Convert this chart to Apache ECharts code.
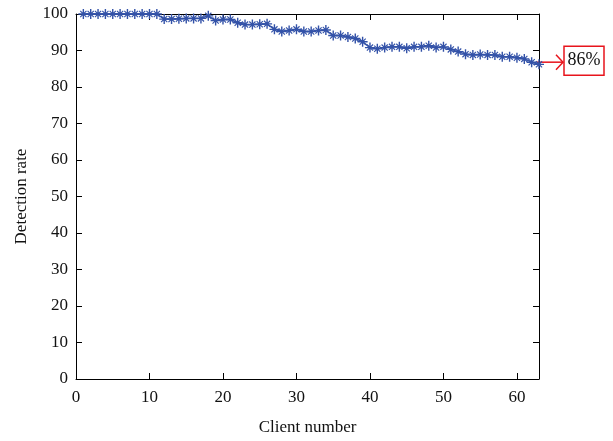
<!DOCTYPE html>
<html>
<head>
<meta charset="utf-8">
<script src="https://cdn.jsdelivr.net/npm/echarts@6/dist/echarts.min.js"></script>
<style>html,body{margin:0;padding:0;background:#fff;}#c{width:613px;height:441px;}</style>
</head>
<body>
<div id="c"></div>
<script>
const clients = [1,2,3,4,5,6,7,8,9,10,11,12,13,14,15,16,17,18,19,20,21,22,23,24,25,26,27,28,29,30,31,32,33,34,35,36,37,38,39,40,41,42,43,44,45,46,47,48,49,50,51,52,53,54,55,56,57,58,59,60,61,62,63];
const rates = [100,100,100,100,100,100,100,100,100,100,100,
  98.6,98.6,98.7,98.8,98.8,98.8,99.5,98.2,98.5,98.5,97.6,97.1,97.1,97.2,97.3,
  95.8,95.2,95.5,95.8,95.2,95.2,95.5,95.6,94.1,94.1,93.7,93.3,92.4,
  90.8,90.5,90.8,91.0,91.0,90.6,91.0,91.0,91.3,90.8,91.0,90.3,89.7,
  89.0,88.8,88.9,88.8,88.8,88.3,88.3,88.0,87.7,86.8,86.2];
const xTicks = [0,10,20,30,40,50,60];
const yTicks = [0,10,20,30,40,50,60,70,80,90,100];
const finalLabel = '86%';

const font = "'Liberation Serif','DejaVu Serif',serif";
const star = 'path://M8.6 0H11.4V20H8.6Z M0 8.6H20V11.4H0Z M3.0 4.6L4.6 3.0L17.0 15.4L15.4 17.0Z M15.4 3.0L17.0 4.6L4.6 17.0L3.0 15.4Z';
const axisBase = {
  axisLine:{show:true,onZero:false,lineStyle:{color:'#000',width:1}},
  axisTick:{show:true,inside:true,length:6,lineStyle:{color:'#000',width:1}},
  splitLine:{show:false}
};
const chart = echarts.init(document.getElementById('c'));
const data = clients.map((c,i)=>[c,rates[i]]);
chart.setOption({
  animation:false,
  grid:{left:76,right:74,top:14,bottom:62},
  xAxis:[
    Object.assign({type:'value',min:0,max:63,interval:10,position:'bottom',
      name:'Client number',nameLocation:'middle',nameGap:40,
      nameTextStyle:{fontFamily:font,fontSize:17,color:'#111'},
      axisLabel:{fontFamily:font,fontSize:17,color:'#111',margin:10,showMaxLabel:false,
        formatter:v=>xTicks.includes(v)?String(v):''}},axisBase),
    Object.assign({type:'value',min:0,max:63,interval:10,position:'top',axisLabel:{show:false}},axisBase)
  ],
  yAxis:[
    Object.assign({type:'value',min:0,max:100,interval:10,position:'left',
      name:'Detection rate',nameLocation:'middle',nameGap:46,
      nameTextStyle:{fontFamily:font,fontSize:17,color:'#111'},
      axisLabel:{fontFamily:font,fontSize:17,color:'#111',margin:8,
        formatter:v=>yTicks.includes(v)?String(v):''}},axisBase),
    Object.assign({type:'value',min:0,max:100,interval:10,position:'right',axisLabel:{show:false}},axisBase)
  ],
  series:[{
    type:'line',data:data,symbol:star,symbolSize:10,showAllSymbol:true,
    lineStyle:{color:'#3352a8',width:1.5},
    itemStyle:{color:'#3352a8'},
    clip:false
  }]
});
const last = data[data.length-1];
const p = chart.convertToPixel({xAxisIndex:0,yAxisIndex:0},[last[0],86.8]);
const x0 = p[0]-2, y0 = p[1];
const bx = x0+27;
chart.setOption({graphic:[
  {type:'line',shape:{x1:x0,y1:y0,x2:bx-1,y2:y0},style:{stroke:'#e8141c',lineWidth:1.5}},
  {type:'polyline',shape:{points:[[bx-8,y0-7.5],[bx-1,y0],[bx-8,y0+7.5]]},style:{stroke:'#e8141c',lineWidth:1.5,fill:null}},
  {type:'rect',shape:{x:bx,y:y0-16,width:40,height:29},style:{stroke:'#e8141c',lineWidth:1.5,fill:'#fff'}},
  {type:'text',x:bx+20,y:y0-1.5,style:{text:finalLabel,font:"18px "+font,fill:'#111',align:'center',verticalAlign:'middle'}}
]});
</script>
</body>
</html>
